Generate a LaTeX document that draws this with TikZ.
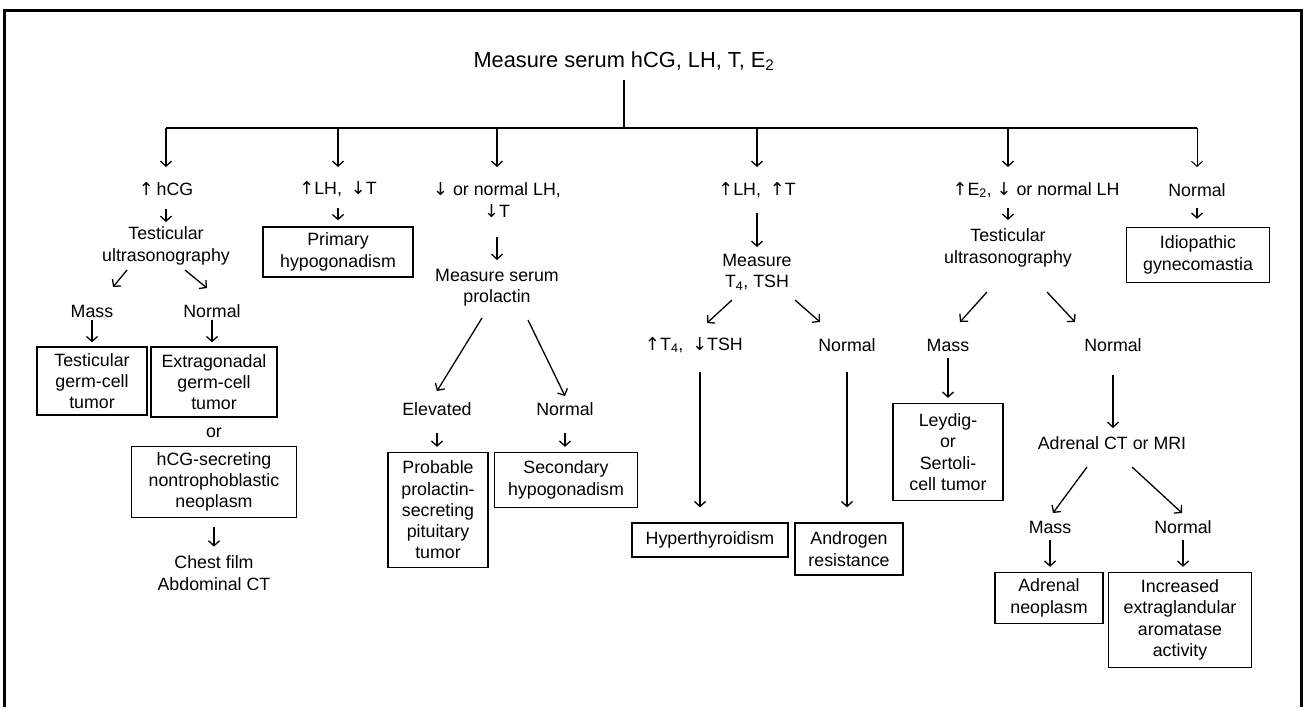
\documentclass[tikz,border=0pt]{standalone}
\usepackage{fontspec}
\setmainfont{Liberation Sans}
\newfontfamily\arrowfont{DejaVu Sans}
\newcommand\upa{{\arrowfont ↑}}
\newcommand\dna{{\arrowfont ↓}}
\usetikzlibrary{arrows.meta}
\begin{document}
\begin{tikzpicture}[x=1pt,y=-1pt,
  lbl/.style={font=\fontsize{17.8}{21.3}\selectfont, align=center, inner sep=0pt},
  box/.style={lbl, draw, line width=1.3pt},
  arr/.style={line width=1.3pt, -{Straight Barb[length=5pt,width=11pt]}},
  tree/.style={line width=1.6pt}]
\useasboundingbox (0,0) rectangle (1306,707);
% frame
\draw[line width=3pt] (4,707) -- (4,10) -- (1301,10) -- (1301,707);

% root and distribution bar
\node[lbl, font=\fontsize{21.8}{25}\selectfont] (top) at (624,61) {Measure serum hCG, LH, T, E\textsubscript{2}};
\coordinate (hub) at (624,128);
\coordinate (barL) at (166,128);
\coordinate (barR) at (1197,128);
\draw[tree, shorten <=19pt] (top.center) -- (hub);
\draw[line width=2.2pt] (barL) -- (barR);

% ---- branch 1: hCG
\node[lbl] (a1) at (166,189) {\upa\,hCG};
\node[lbl] (a2) at (166,246) {Testicular\\ultrasonography};
\node[lbl] (a3) at (92,311) {Mass};
\node[lbl] (a4) at (212,311) {Normal};
\node[box, minimum width=110pt, minimum height=68pt] (b1) at (92,381) {Testicular\\germ-cell\\tumor};
\node[box, minimum width=126pt, minimum height=70pt] (b2) at (214,382) {Extragonadal\\germ-cell\\tumor};
\node[lbl] (a5) at (214,433) {or};
\node[box, minimum width=165pt, minimum height=71pt] (b3) at (214,482) {hCG-secreting\\nontrophoblastic\\neoplasm};
\node[lbl] (a6) at (214,573) {Chest film\\Abdominal CT};
\draw[arr, shorten >=22pt] (a1 |- hub) -- (a1.center);
\draw[arr, shorten <=20pt, shorten >=24pt] (a1.center) -- (a2.center);
\draw[arr] ([shift={(-39,24)}]a2.center) -- ([shift={(21,-24)}]a3.center);
\draw[arr] ([shift={(19,24)}]a2.center) -- ([shift={(-5,-23)}]a4.center);
\draw[arr, shorten <=9pt, shorten >=4pt] (a3.center) -- (a3.center |- b1.north);
\draw[arr, shorten <=9pt, shorten >=4pt] (a4.center) -- (a4.center |- b2.north);
\draw[arr, shorten <=9pt, shorten >=9pt] (b3.south) -- (a6.north);

% ---- branch 2: primary hypogonadism
\node[lbl] (c1) at (338,189) {\upa LH,\enspace\dna T};
\node[box, minimum width=150pt, minimum height=50pt] (c2) at (338,252) {Primary\\hypogonadism};
\draw[arr, shorten >=22pt] (c1 |- hub) -- (c1.center);
\draw[arr, shorten <=19pt, shorten >=6pt] (c1.center) -- (c2.north);

% ---- branch 3: prolactin
\node[lbl] (d1) at (497,200) {\dna\ or normal LH,\\\dna T};
\node[lbl] (d2) at (497,288) {Measure serum\\prolactin};
\node[lbl] (d3) at (437,409) {Elevated};
\node[lbl] (d4) at (565,409) {Normal};
\node[box, minimum width=100pt, minimum height=115pt] (d5) at (438,510) {Probable\\prolactin-\\secreting\\pituitary\\tumor};
\node[box, minimum width=143pt, minimum height=55pt] (d6) at (566,480) {Secondary\\hypogonadism};
\draw[arr, shorten >=33pt] (d1 |- hub) -- (d1.center);
\draw[arr, shorten <=37pt, shorten >=28pt] (d1.center) -- (d2.center);
\draw[arr] ([shift={(-15,30)}]d2.center) -- ([shift={(0,-18)}]d3.center);
\draw[arr] ([shift={(31,32)}]d2.center) -- ([shift={(0,-13)}]d4.center);
\draw[arr, shorten <=24pt, shorten >=5pt] (d3.center) -- (d3.center |- d5.north);
\draw[arr, shorten <=24pt, shorten >=5pt] (d4.center) -- (d4.center |- d6.north);

% ---- branch 4: thyroid
\node[lbl] (e1) at (757,190) {\upa LH,\enspace\upa T};
\node[lbl] (e2) at (757,272) {Measure\\T\textsubscript{4}, TSH};
\node[lbl] (e3) at (694,345) {\upa T\textsubscript{4},\enspace\dna TSH};
\node[lbl] (e4) at (847,345) {Normal};
\node[box, minimum width=156pt, minimum height=34pt] (e5) at (710,540) {Hyperthyroidism};
\node[box, minimum width=108pt, minimum height=52pt] (e6) at (849,549) {Androgen\\resistance};
\draw[arr, shorten >=23pt] (e1 |- hub) -- (e1.center);
\draw[arr, shorten <=23pt, shorten >=25pt] (e1.center) -- (e2.center);
\draw[arr] ([shift={(-25,28)}]e2.center) -- ([shift={(13,-22)}]e3.center);
\draw[arr] ([shift={(38,28)}]e2.center) -- ([shift={(-27,-23)}]e4.center);
\draw[arr, shorten <=27pt, shorten >=15pt] ([xshift=6pt]e3.center) -- ([xshift=6pt]e3.center |- e5.north);
\draw[arr, shorten <=27pt, shorten >=15pt] (e4.center) -- (e4.center |- e6.north);

% ---- branch 5: estradiol
\coordinate (f0) at (1008,128);
\node[lbl] (f1) at (1036,190) {\upa E\textsubscript{2}, \dna\ or normal LH};
\node[lbl] (f2) at (1008,248) {Testicular\\ultrasonography};
\node[lbl] (f3) at (948,345) {Mass};
\node[lbl] (f4) at (1113,345) {Normal};
\node[box, minimum width=110pt, minimum height=97pt] (f5) at (948,452) {Leydig-\\or\\Sertoli-\\cell tumor};
\node[lbl] (f6) at (1112,443) {Adrenal CT or MRI};
\node[lbl] (f7) at (1050,527) {Mass};
\node[lbl] (f8) at (1183,527) {Normal};
\node[box, minimum width=108pt, minimum height=51pt] (f9) at (1049,598) {Adrenal\\neoplasm};
\node[box, minimum width=143pt, minimum height=95pt] (f10) at (1180,620) {Increased\\extraglandular\\aromatase\\activity};
\draw[arr, shorten >=23pt] (f0) -- (f0 |- f1.center);
\draw[arr, shorten <=18pt, shorten >=28pt] (f2.center |- f1.center) -- (f2.center);
\draw[arr] ([shift={(-21,44)}]f2.center) -- ([shift={(12,-23)}]f3.center);
\draw[arr] ([shift={(39,44)}]f2.center) -- ([shift={(-38,-23)}]f4.center);
\draw[arr, shorten <=13pt, shorten >=5pt] (f3.center) -- (f3.center |- f5.north);
\draw[arr, shorten <=30pt, shorten >=15pt] (f4.center) -- (f4.center |- f6.center);
\draw[arr] ([shift={(-25,24)}]f6.center) -- ([shift={(3,-14)}]f7.center);
\draw[arr] ([shift={(20,24)}]f6.center) -- ([shift={(-1,-14)}]f8.center);
\draw[arr, shorten <=13pt, shorten >=5pt] (f7.center) -- (f7.center |- f9.north);
\draw[arr, shorten <=13pt, shorten >=5pt] (f8.center) -- (f8.center |- f10.north);

% ---- branch 6: normal
\node[lbl] (g1) at (1197,190) {Normal};
\node[box, minimum width=143pt, minimum height=55pt] (g2) at (1198,255) {Idiopathic\\gynecomastia};
\draw[arr, line width=1pt, shorten >=23pt] (g1 |- hub) -- (g1.center);
\draw[arr, shorten <=18pt, shorten >=8pt] (g1.center) -- (g1.center |- g2.north);
\end{tikzpicture}
\end{document}
